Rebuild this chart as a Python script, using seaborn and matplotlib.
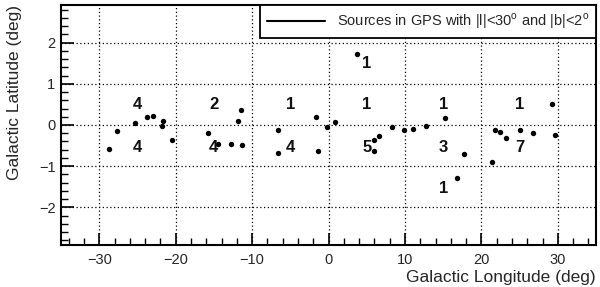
import matplotlib
matplotlib.use("Agg")
import matplotlib.pyplot as plt
from matplotlib.lines import Line2D
from matplotlib.ticker import MultipleLocator
import seaborn as sns
import pandas as pd

# Source positions (Galactic longitude, latitude in deg)
lon = [-28.7, -27.7, -25.3, -23.8, -23.0, -21.6, -21.8, -20.5,
       -11.4, -11.8, -15.8, -14.4, -12.8, -11.3,
       -1.7, -6.6, -6.55, -1.4, -0.2, 0.8,
       3.7, 15.3, 8.3, 9.9, 11.1, 12.7, 6.6, 5.9, 6.0,
       29.3, 21.8, 22.4, 23.2, 25.1, 26.7, 29.7, 17.7, 21.4, 16.8]
lat = [-0.58, -0.14, 0.04, 0.19, 0.22, 0.09, -0.02, -0.36,
       0.37, 0.10, -0.19, -0.47, -0.47, -0.49,
       0.19, -0.13, -0.68, -0.64, -0.05, 0.07,
       1.72, 0.16, -0.04, -0.11, -0.10, -0.03, -0.27, -0.37, -0.63,
       0.50, -0.12, -0.17, -0.32, -0.13, -0.20, -0.24, -0.70, -0.89, -1.29]

# Count labels per 10-degree bin
count_lon = [-25, -25, -15, -15, -5, -5, 5, 5, 5, 15, 15, 15, 25, 25]
count_lat = [0.5, -0.55, 0.5, -0.55, 0.5, -0.55, 1.48, 0.5, -0.55, 0.5, -0.55, -1.55, 0.5, -0.55]
count_txt = ["4", "4", "2", "4", "1", "4", "1", "1", "5", "1", "3", "1", "1", "7"]

legend_label = "Sources in GPS with |l|<30$^{\\rm o}$ and |b|<2$^{\\rm o}$"

sns.set_style("white")
plt.rcParams['font.family'] = ['Liberation Sans', 'DejaVu Sans']
plt.rcParams['mathtext.fontset'] = 'custom'
plt.rcParams['mathtext.rm'] = 'Liberation Sans'

fig = plt.figure(figsize=(6.0, 2.87), dpi=100)
ax = fig.add_axes([61/600, 1-245/287, 535/600, 240/287])

df = pd.DataFrame({"lon": lon, "lat": lat})
sns.scatterplot(data=df, x="lon", y="lat", ax=ax, color="black", s=15,
                edgecolor="black", linewidth=0, zorder=3)

for x, y, t in zip(count_lon, count_lat, count_txt):
    ax.text(x, y, t, ha="center", va="center", fontsize=12,
            fontweight="bold", color="#111111", zorder=4)

ax.set_xlim(-35, 35)
ax.set_ylim(-2.91, 2.91)
ax.xaxis.set_major_locator(MultipleLocator(10))
ax.xaxis.set_minor_locator(MultipleLocator(2))
ax.yaxis.set_major_locator(MultipleLocator(1))
ax.yaxis.set_minor_locator(MultipleLocator(0.2))
ax.tick_params(which="both", direction="in", bottom=True, left=True,
               top=False, right=False, color="black", labelsize=10.5)
ax.tick_params(which="major", length=9, width=1.2)
ax.tick_params(which="minor", length=5, width=1.0)
ax.tick_params(axis="x", pad=6)
ax.tick_params(axis="y", pad=4)

ax.grid(True, which="major", linestyle=(0, (1, 2)), color="black", linewidth=0.9)
for sp in ax.spines.values():
    sp.set_color("black")
    sp.set_linewidth(1.5)

ax.set_xlabel("Galactic Longitude (deg)", fontsize=12.5, loc="right", labelpad=2)
ax.set_ylabel("Galactic Latitude (deg)", fontsize=12.5, loc="top", labelpad=12)

handle = Line2D([], [], color="black", linewidth=1.5)
leg = ax.legend([handle], [legend_label], loc="upper right",
                bbox_to_anchor=(1.0, 1.0), borderaxespad=0, fancybox=False,
                framealpha=1, edgecolor="black", fontsize=10.5,
                handlelength=4.0, handletextpad=0.8, borderpad=0.45)
leg.get_frame().set_linewidth(1.3)

fig.savefig("out.png", dpi=100)
